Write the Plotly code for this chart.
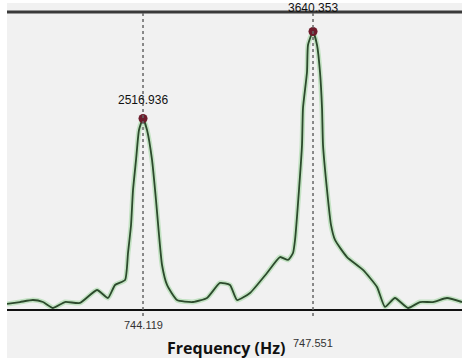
import plotly.graph_objects as go

# Spectrum trace (frequency in Hz, amplitude)
freq = [741.373, 741.636, 741.898, 742.100, 742.302, 742.544, 742.847, 743.190,
        743.412, 743.554, 743.756, 743.816, 743.877, 743.917, 743.978, 744.038,
        744.119, 744.200, 744.301, 744.381, 744.442, 744.503, 744.604, 744.805,
        745.128, 745.411, 745.673, 745.875, 746.017, 746.279, 746.622, 746.885,
        747.046, 747.147, 747.188, 747.268, 747.329, 747.349, 747.430, 747.450,
        747.551, 747.632, 747.692, 747.733, 747.753, 747.834, 747.914, 747.995,
        748.237, 748.560, 748.843, 749.004, 749.206, 749.469, 749.711, 749.974,
        750.256, 750.559]
amp = [123, 148, 174, 148, 71, 148, 136, 303,
       200, 368, 432, 781, 1143, 1594, 1982, 2369,
       2516.936, 2369, 1982, 1465, 1013, 626, 368, 174,
       148, 200, 394, 368, 174, 265, 523, 729,
       691, 781, 949, 1594, 2175, 2653, 3118, 3466,
       3640.353, 3466, 3118, 2653, 2175, 1594, 1143, 949,
       729, 562, 342, 84, 200, 71, 148, 148,
       200, 148]

peak_freq = [744.119, 747.551]
peak_amp = [2516.936, 3640.353]
peak_labels = ["2516.936", "3640.353"]
tick_labels = ["744.119", "747.551"]
x_title = "Frequency (Hz)"

x_range = [741.373, 750.559]
y_range = [45, 3892]

fig = go.Figure()
fig.add_trace(go.Scatter(x=freq, y=amp, mode="lines",
                         line=dict(color="#c3e2c3", width=5, shape="spline", smoothing=0.5),
                         hoverinfo="skip"))
fig.add_trace(go.Scatter(x=freq, y=amp, mode="lines",
                         line=dict(color="#2c4a2c", width=1.8, shape="spline", smoothing=0.5)))
fig.add_trace(go.Scatter(x=peak_freq, y=peak_amp, mode="markers",
                         marker=dict(color="#6e1c2c", size=9, symbol="circle")))

shapes = [
    # gray background panel
    dict(type="rect", xref="paper", yref="paper", x0=0, x1=1.01, y0=-0.17, y1=1.0302,
         fillcolor="#f1f1f1", line=dict(width=0), layer="below"),
    # top line
    dict(type="line", xref="paper", yref="paper", x0=0, x1=1, y0=1, y1=1,
         line=dict(color="#3a3a3a", width=3)),
    # bottom axis line
    dict(type="line", xref="paper", yref="paper", x0=0, x1=1, y0=0, y1=0,
         line=dict(color="#111111", width=2)),
]
for f in peak_freq:
    shapes.append(dict(type="line", xref="x", yref="paper", x0=f, x1=f, y0=-0.02, y1=1,
                       line=dict(color="#666666", width=1.5, dash="dot")))

annotations = []
for f, a, t, s in zip(peak_freq, peak_amp, peak_labels, [19, 23]):
    annotations.append(dict(x=f, y=a, xref="x", yref="y", text=t, showarrow=False,
                            yshift=s, xanchor="center", yanchor="middle",
                            font=dict(family="Liberation Sans", size=12, color="#111111")))
for f, yy, t in zip(peak_freq, [-0.05, -0.111], tick_labels):
    annotations.append(dict(x=f, y=yy, xref="x", yref="paper", text=t, showarrow=False,
                            xanchor="center", yanchor="middle",
                            font=dict(family="Liberation Sans", size=11, color="#333333")))
annotations.append(dict(x=0.481, y=-0.1275, xref="paper", yref="paper", text="<b>" + x_title + "</b>",
                        showarrow=False, xanchor="center", yanchor="middle",
                        font=dict(family="Open Sans", size=16, color="#111111")))

fig.update_layout(
    width=462, height=358,
    margin=dict(l=7, r=0, t=12, b=48),
    paper_bgcolor="white", plot_bgcolor="#f1f1f1",
    showlegend=False,
    xaxis=dict(range=x_range, showgrid=False, zeroline=False, showticklabels=False,
               showline=False, ticks=""),
    yaxis=dict(range=y_range, showgrid=False, zeroline=False, showticklabels=False,
               showline=False, ticks=""),
    shapes=shapes, annotations=annotations,
)
fig.write_html("out.html")
